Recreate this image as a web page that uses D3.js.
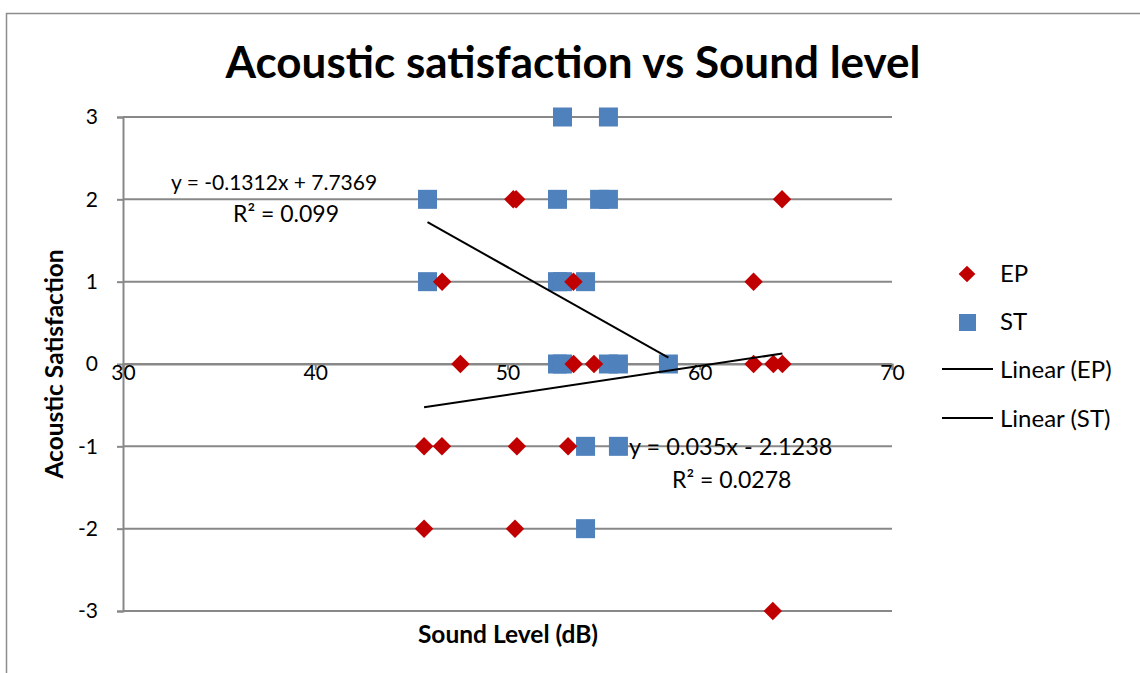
<!DOCTYPE html>
<html>
<head>
<meta charset="utf-8">
<script src="https://cdn.jsdelivr.net/npm/d3@7"></script>
<style>
  html, body { margin: 0; padding: 0; background: #fff; }
  svg { display: block; font-family: Lato, "Open Sans", sans-serif; }
</style>
</head>
<body>
<svg id="chart" width="1140" height="673"></svg>
<script>
// Sound level (dB) and satisfaction score for each group
const epX = [50.3, 50.45, 64.28, 46.6, 53.43, 62.8, 47.55, 53.44, 54.5, 62.8, 63.83, 64.3, 45.66, 46.59, 50.49, 53.15, 45.66, 50.39, 63.8];
const epY = [2, 2, 2, 1, 1, 1, 0, 0, 0, 0, 0, 0, -1, -1, -1, -1, -2, -2, -3];
const stX = [52.86, 55.25, 45.84, 52.6, 54.79, 55.25, 45.84, 52.6, 52.86, 54.06, 52.6, 52.86, 55.25, 55.77, 58.37, 54.06, 55.77, 54.06];
const stY = [3, 3, 2, 2, 2, 2, 1, 1, 1, 1, 0, 0, 0, 0, 0, -1, -1, -2];

// Linear trend coefficients [slope, intercept] and R²
const epFit = [0.035, -2.1238];
const epR2 = "0.0278";
const stFit = [-0.1312, 7.7369];
const stR2 = "0.099";

const xTicks = [30, 40, 50, 60, 70];
const yTicks = [-3, -2, -1, 0, 1, 2, 3];

const svg = d3.select("#chart");
const red = "#C00000", blue = "#4F81BD", grid = "#888888";

// outer chart border
svg.append("rect").attr("x", 6.5).attr("y", 13.5).attr("width", 1150).attr("height", 700)
  .attr("fill", "none").attr("stroke", "#8c8c8c").attr("stroke-width", 1.5);

const x = d3.scaleLinear().domain([30, 70]).range([123, 892]);
const y = d3.scaleLinear().domain([-3, 3]).range([611, 117]);

// horizontal gridlines
svg.append("g").selectAll("line").data(yTicks).join("line")
  .attr("x1", x(30)).attr("x2", x(70))
  .attr("y1", d => y(d)).attr("y2", d => y(d))
  .attr("stroke", grid).attr("stroke-width", 2);

// y axis (at x = 30)
const yAxis = svg.append("g").attr("transform", `translate(${x(30)},0)`)
  .call(d3.axisLeft(y).tickValues(yTicks).tickSize(6).tickPadding(19).tickFormat(d => String(d)));
yAxis.select(".domain").attr("stroke", grid).attr("stroke-width", 2);
yAxis.selectAll(".tick line").attr("stroke", grid).attr("stroke-width", 2);
yAxis.selectAll("text").attr("font-size", 21).attr("fill", "#000").attr("font-family", "Lato, sans-serif");

// x axis (crossing at y = 0)
const xAxis = svg.append("g").attr("transform", `translate(0,${y(0)})`)
  .call(d3.axisBottom(x).tickValues(xTicks).tickSize(6).tickPadding(-5).tickFormat(d => String(d)));
xAxis.select(".domain").attr("stroke", grid).attr("stroke-width", 2);
xAxis.selectAll(".tick line").attr("stroke", grid).attr("stroke-width", 2);
xAxis.selectAll("text").attr("font-size", 21).attr("fill", "#000").attr("font-family", "Lato, sans-serif");

// points
const ep = epX.map((v, i) => [v, epY[i]]);
const st = stX.map((v, i) => [v, stY[i]]);

svg.append("g").selectAll("rect").data(st).join("rect")
  .attr("x", d => x(d[0]) - 9.5).attr("y", d => y(d[1]) - 9.5)
  .attr("width", 19).attr("height", 19).attr("fill", blue);

const diamond = d3.symbol().type(d3.symbolSquare).size(170);
svg.append("g").selectAll("path").data(ep).join("path")
  .attr("d", diamond)
  .attr("transform", d => `translate(${x(d[0])},${y(d[1])}) rotate(45)`)
  .attr("fill", red);

// trend lines over each series' x range
function trend(xs, fit) {
  const [lo, hi] = d3.extent(xs);
  return [[lo, fit[0] * lo + fit[1]], [hi, fit[0] * hi + fit[1]]];
}
const line = d3.line().x(d => x(d[0])).y(d => y(d[1]));
svg.append("path").attr("d", line(trend(stX, stFit))).attr("stroke", "#000").attr("stroke-width", 2).attr("fill", "none");
svg.append("path").attr("d", line(trend(epX, epFit))).attr("stroke", "#000").attr("stroke-width", 2).attr("fill", "none");

// trend equations
function eqText(fit) {
  const s = fit[0] < 0 ? "-" + Math.abs(fit[0]) : String(fit[0]);
  const b = fit[1] < 0 ? " - " + Math.abs(fit[1]) : " + " + fit[1];
  return "y = " + s + "x" + b;
}
const eq = svg.append("g").attr("fill", "#000");
eq.append("text").attr("x", 171).attr("y", 190).attr("font-size", 21).text(eqText(stFit));
eq.append("text").attr("x", 233).attr("y", 222).attr("font-size", 23).text("R² = " + stR2);
eq.append("text").attr("x", 629).attr("y", 455).attr("font-size", 23.5).text(eqText(epFit));
eq.append("text").attr("x", 672).attr("y", 488).attr("font-size", 23).text("R² = " + epR2);

// title
svg.append("text").attr("x", 573).attr("y", 78).attr("text-anchor", "middle")
  .attr("font-size", 44).attr("font-weight", "bold").text("Acoustic satisfaction vs Sound level");

// axis titles
svg.append("text").attr("x", 508).attr("y", 643).attr("text-anchor", "middle")
  .attr("font-size", 24.5).attr("font-weight", "bold").text("Sound Level (dB)");
svg.append("text").attr("transform", `translate(63,${y(0)}) rotate(-90)`).attr("text-anchor", "middle")
  .attr("font-size", 24.5).attr("font-weight", "bold").text("Acoustic Satisfaction");

// legend
const legend = svg.append("g").attr("font-size", 24);
legend.append("path").attr("d", d3.symbol().type(d3.symbolSquare).size(140))
  .attr("transform", "translate(967,274) rotate(45)").attr("fill", red);
legend.append("text").attr("x", 1000).attr("y", 282).text("EP");
legend.append("rect").attr("x", 959).attr("y", 314).attr("width", 17).attr("height", 17).attr("fill", blue);
legend.append("text").attr("x", 1000).attr("y", 330).text("ST");
legend.append("line").attr("x1", 942).attr("x2", 993).attr("y1", 369).attr("y2", 369).attr("stroke", "#000").attr("stroke-width", 2);
legend.append("text").attr("x", 1000).attr("y", 378).text("Linear (EP)");
legend.append("line").attr("x1", 942).attr("x2", 993).attr("y1", 418).attr("y2", 418).attr("stroke", "#000").attr("stroke-width", 2);
legend.append("text").attr("x", 1000).attr("y", 427).text("Linear (ST)");
</script>
</body>
</html>
